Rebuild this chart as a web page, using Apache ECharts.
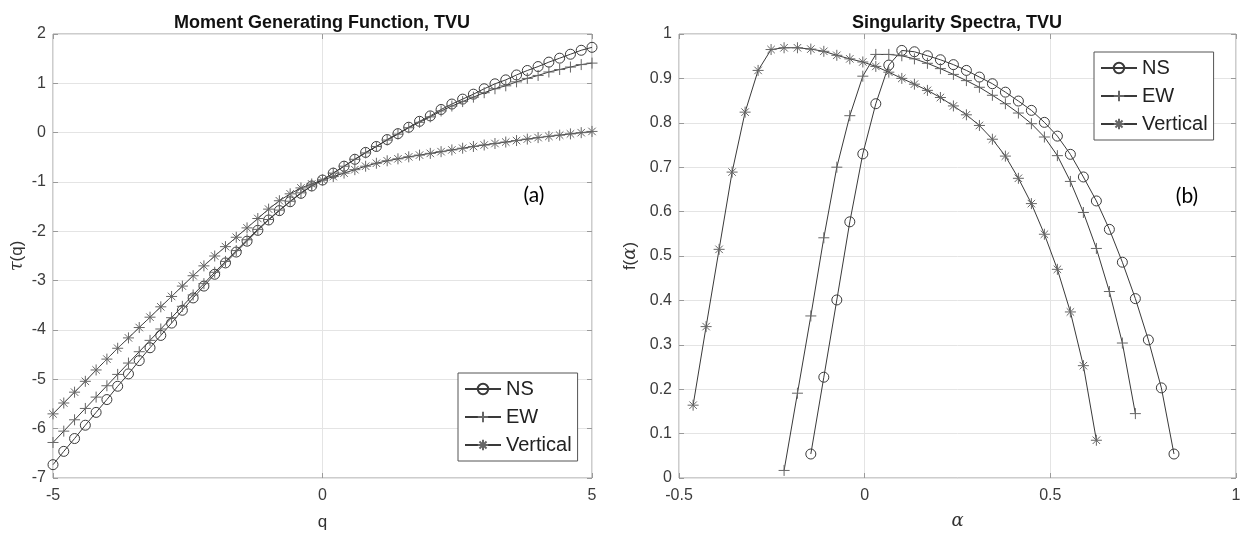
<!DOCTYPE html>
<html>
<head>
<meta charset="utf-8">
<script src="https://cdn.jsdelivr.net/npm/echarts@6/dist/echarts.min.js"></script>
<style>
  html, body { margin: 0; padding: 0; background: #fff; }
  #chart { width: 1245px; height: 534px; }
</style>
</head>
<body>
<div id="chart"></div>
<script>
// (a) moment generating function tau(q)
const q = [-5, -4.8, -4.6, -4.4, -4.2, -4, -3.8, -3.6, -3.4, -3.2, -3, -2.8, -2.6, -2.4, -2.2, -2, -1.8, -1.6, -1.4, -1.2, -1, -0.8, -0.6, -0.4, -0.2,
  0, 0.2, 0.4, 0.6, 0.8, 1, 1.2, 1.4, 1.6, 1.8, 2, 2.2, 2.4, 2.6, 2.8, 3, 3.2, 3.4, 3.6, 3.8, 4, 4.2, 4.4, 4.6, 4.8, 5];
const tauNS = [-6.73, -6.46, -6.20, -5.93, -5.67, -5.41, -5.14, -4.89, -4.62, -4.36, -4.11, -3.86, -3.60, -3.35, -3.11, -2.87, -2.64, -2.42, -2.20, -1.98, -1.77, -1.58, -1.40, -1.23, -1.08,
  -0.96, -0.82, -0.68, -0.54, -0.40, -0.28, -0.14, -0.02, 0.11, 0.23, 0.34, 0.47, 0.58, 0.68, 0.78, 0.89, 0.99, 1.07, 1.17, 1.26, 1.34, 1.43, 1.51, 1.59, 1.67, 1.73];
const tauEW = [-6.28, -6.05, -5.82, -5.59, -5.36, -5.13, -4.90, -4.67, -4.44, -4.21, -3.98, -3.75, -3.52, -3.29, -3.06, -2.83, -2.61, -2.39, -2.17, -1.96, -1.76, -1.57, -1.39, -1.22, -1.08,
  -0.96, -0.82, -0.68, -0.54, -0.41, -0.28, -0.15, -0.03, 0.10, 0.21, 0.32, 0.44, 0.54, 0.63, 0.72, 0.81, 0.89, 0.95, 1.03, 1.10, 1.16, 1.23, 1.28, 1.33, 1.38, 1.41];
const tauVert = [-5.70, -5.48, -5.26, -5.04, -4.81, -4.59, -4.37, -4.16, -3.95, -3.74, -3.53, -3.32, -3.11, -2.90, -2.70, -2.50, -2.31, -2.12, -1.93, -1.74, -1.55, -1.38, -1.24, -1.12, -1.04,
  -0.96, -0.89, -0.82, -0.75, -0.68, -0.62, -0.57, -0.53, -0.49, -0.455, -0.42, -0.385, -0.35, -0.315, -0.28, -0.25, -0.22, -0.19, -0.16, -0.13, -0.10, -0.075, -0.05, -0.025, 0.00, 0.025];

// (b) singularity spectra f(alpha)
const alphaNS = [-0.145, -0.110, -0.075, -0.040, -0.005, 0.030, 0.065, 0.100, 0.134, 0.169, 0.204, 0.239, 0.274, 0.309, 0.344,
  0.379, 0.414, 0.449, 0.484, 0.519, 0.554, 0.589, 0.624, 0.659, 0.694, 0.729, 0.764, 0.799, 0.833];
const fNS = [0.054, 0.227, 0.401, 0.577, 0.730, 0.843, 0.930, 0.963, 0.960, 0.951, 0.942, 0.931, 0.918, 0.903, 0.888,
  0.869, 0.849, 0.828, 0.801, 0.770, 0.729, 0.678, 0.624, 0.560, 0.486, 0.404, 0.311, 0.203, 0.054];
const alphaEW = [-0.217, -0.181, -0.145, -0.110, -0.075, -0.040, -0.005, 0.030, 0.065, 0.100, 0.134, 0.169, 0.204, 0.239,
  0.274, 0.309, 0.344, 0.379, 0.414, 0.449, 0.484, 0.519, 0.554, 0.589, 0.624, 0.659, 0.694, 0.729];
const fEW = [0.017, 0.191, 0.365, 0.541, 0.700, 0.816, 0.905, 0.954, 0.954, 0.951, 0.944, 0.934, 0.922, 0.909,
  0.895, 0.880, 0.862, 0.843, 0.822, 0.798, 0.768, 0.726, 0.668, 0.598, 0.517, 0.420, 0.304, 0.145];
const alphaVert = [-0.462, -0.427, -0.392, -0.357, -0.322, -0.287, -0.252, -0.217, -0.181, -0.145, -0.110, -0.075, -0.040, -0.005, 0.030, 0.065,
  0.100, 0.134, 0.169, 0.204, 0.239, 0.274, 0.309, 0.344, 0.379, 0.414, 0.449, 0.484, 0.519, 0.554, 0.589, 0.624];
const fVert = [0.164, 0.341, 0.515, 0.689, 0.824, 0.918, 0.965, 0.969, 0.969, 0.966, 0.961, 0.952, 0.944, 0.937, 0.927, 0.914,
  0.900, 0.887, 0.873, 0.857, 0.838, 0.818, 0.794, 0.763, 0.725, 0.675, 0.618, 0.549, 0.470, 0.374, 0.253, 0.085];

// tick labels
const qTicks = [-5, 0, 5];
const tauTicks = [-7, -6, -5, -4, -3, -2, -1, 0, 1, 2];
const alphaTicks = [-0.5, 0, 0.5, 1];
const fTicks = [0, 0.1, 0.2, 0.3, 0.4, 0.5, 0.6, 0.7, 0.8, 0.9, 1];

const names = ['NS', 'EW', 'Vertical'];

const font = "'Liberation Sans', Arial, Helvetica, sans-serif";
const greek = "'DejaVu Serif', 'Liberation Serif', serif";
const frame = '#9a9a9a';
const lineColor = '#3a3a3a';
const plusPath = 'path://M5,0L5,10M0,5L10,5';
const starPath = 'path://M5,0L5,10M0,5L10,5M1.6,1.6L8.4,8.4M8.4,1.6L1.6,8.4';

const pairs = (xs, ys) => xs.map((x, i) => [x, ys[i]]);

const tickLabel = { fontSize: 16, color: '#3c3c3c', fontFamily: font };

function axis(gridIndex, ticks, extra) {
  return Object.assign({
    type: 'value',
    gridIndex: gridIndex,
    min: ticks[0],
    max: ticks[ticks.length - 1],
    interval: ticks[1] - ticks[0],
    axisLine: { show: false, onZero: false },
    axisTick: { inside: true, length: 5, lineStyle: { color: frame } },
    axisLabel: tickLabel,
    splitLine: { show: true, lineStyle: { color: '#e4e4e4', width: 1 } }
  }, extra);
}
// axis on the opposite side: only ticks, to close the box like matlab
function sideAxis(gridIndex, ticks, position) {
  return axis(gridIndex, ticks, {
    position: position,
    axisLabel: { show: false },
    splitLine: { show: false }
  });
}

const nameStyle = {
  fontSize: 17, color: '#333', fontFamily: font,
  rich: { g: { fontSize: 18, fontFamily: greek, fontStyle: 'italic', color: '#333' } }
};

const markers = {
  NS: { symbol: 'circle', symbolSize: 10, border: lineColor },
  EW: { symbol: plusPath, symbolSize: 11, border: '#666' },
  Vertical: { symbol: starPath, symbolSize: 11, border: '#666' }
};

function lineSeries(name, xIndex, yIndex, data) {
  const m = markers[name];
  return {
    name: name,
    type: 'line',
    xAxisIndex: xIndex,
    yAxisIndex: yIndex,
    data: data,
    symbol: m.symbol,
    symbolSize: m.symbolSize,
    showAllSymbol: true,
    lineStyle: { color: lineColor, width: 1 },
    itemStyle: { color: 'rgba(0,0,0,0)', borderColor: m.border, borderWidth: 1 },
    emphasis: { disabled: true },
    z: 3
  };
}

function legend(left, top) {
  return {
    data: names,
    orient: 'vertical',
    left: left,
    top: top,
    itemWidth: 36,
    itemHeight: 13,
    itemGap: 8,
    padding: [6, 6, 6, 6],
    backgroundColor: '#fff',
    borderColor: '#555',
    borderWidth: 1,
    borderRadius: 0,
    selectedMode: false,
    textStyle: { fontSize: 20, color: '#222', fontFamily: font }
  };
}

const chart = echarts.init(document.getElementById('chart'), null, { renderer: 'canvas' });

const option = {
  animation: false,
  backgroundColor: '#fff',
  grid: [
    { left: 53, top: 34, width: 539, height: 444, show: true, borderColor: frame, borderWidth: 1, outerBoundsMode: 'none' },
    { left: 679, top: 34, width: 557, height: 444, show: true, borderColor: frame, borderWidth: 1, outerBoundsMode: 'none' }
  ],
  xAxis: [
    axis(0, qTicks, { position: 'bottom', name: 'q', nameLocation: 'middle', nameGap: 36, nameTextStyle: nameStyle,
      axisLabel: Object.assign({ margin: 10 }, tickLabel) }),
    sideAxis(0, qTicks, 'top'),
    axis(1, alphaTicks, { position: 'bottom', name: '{g|α}', nameLocation: 'middle', nameGap: 34, nameTextStyle: nameStyle,
      axisLabel: Object.assign({ margin: 10 }, tickLabel) }),
    sideAxis(1, alphaTicks, 'top')
  ],
  yAxis: [
    axis(0, tauTicks, { position: 'left', name: '{g|τ}(q)', nameLocation: 'middle', nameGap: 27, nameTextStyle: nameStyle,
      axisLabel: Object.assign({ margin: 7 }, tickLabel) }),
    sideAxis(0, tauTicks, 'right'),
    axis(1, fTicks, { position: 'left', name: 'f({g|α})', nameLocation: 'middle', nameGap: 40, nameTextStyle: nameStyle,
      axisLabel: Object.assign({ margin: 7 }, tickLabel) }),
    sideAxis(1, fTicks, 'right')
  ],
  legend: [legend(458, 373), legend(1094, 52)],
  graphic: [
    { type: 'text', x: 322, y: 23, style: { text: 'Moment Generating Function, TVU', fontSize: 18, fontWeight: 'bold', fontFamily: font, fill: '#111', align: 'center', verticalAlign: 'middle' } },
    { type: 'text', x: 957, y: 23, style: { text: 'Singularity Spectra, TVU', fontSize: 18, fontWeight: 'bold', fontFamily: font, fill: '#111', align: 'center', verticalAlign: 'middle' } },
    { type: 'text', x: 534, y: 195, style: { text: '(a)', fontSize: 21, fontFamily: "Lato, 'Open Sans', sans-serif", fill: '#000', align: 'center', verticalAlign: 'middle' } },
    { type: 'text', x: 1187, y: 196, style: { text: '(b)', fontSize: 21, fontFamily: "Lato, 'Open Sans', sans-serif", fill: '#000', align: 'center', verticalAlign: 'middle' } }
  ],
  series: [
    lineSeries('NS', 0, 0, pairs(q, tauNS)),
    lineSeries('EW', 0, 0, pairs(q, tauEW)),
    lineSeries('Vertical', 0, 0, pairs(q, tauVert)),
    lineSeries('NS', 2, 2, pairs(alphaNS, fNS)),
    lineSeries('EW', 2, 2, pairs(alphaEW, fEW)),
    lineSeries('Vertical', 2, 2, pairs(alphaVert, fVert))
  ]
};

chart.setOption(option);
</script>
</body>
</html>
